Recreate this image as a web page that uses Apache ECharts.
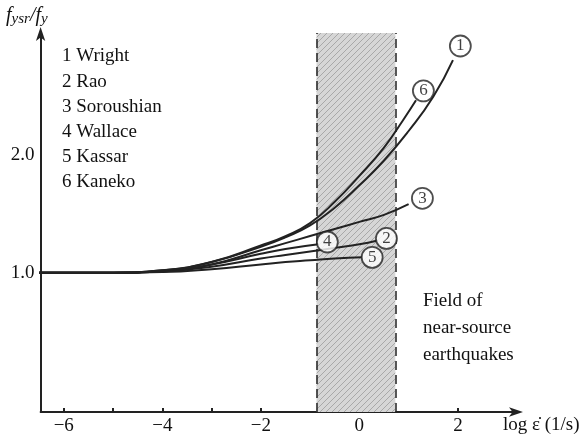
<!DOCTYPE html>
<html><head><meta charset="utf-8">
<script src="https://cdn.jsdelivr.net/npm/echarts@6/dist/echarts.min.js"></script>
<style>html,body{margin:0;padding:0;background:#fff}#c{width:588px;height:438px}</style>
</head><body><div id="c"></div>
<script>
// ---- data ----
const xTickValues = [-6, -5, -4, -3, -2, 0, 2];
const xLabelValues = [-6, -4, -2, 0, 2];
const yLabelValues = [1, 2];
const band = [-0.87, 0.73];
const seriesNames = ['Wright', 'Rao', 'Soroushian', 'Wallace', 'Kassar', 'Kaneko'];
const curve1 = [[-6.5,1.0],[-5,1.0],[-4,1.02],[-3,1.09],[-2,1.22],[-1.5,1.30],[-1,1.40],[-0.5,1.55],[0,1.74],[0.5,1.95],[1,2.20],[1.5,2.49],[1.9,2.80]];
const curve2 = [[-6.5,1.0],[-5,1.0],[-4,1.01],[-3,1.05],[-2,1.12],[-1.5,1.15],[-1,1.18],[-0.5,1.21],[0,1.24],[0.35,1.27]];
const curve3 = [[-6.5,1.0],[-5,1.0],[-4,1.015],[-3,1.07],[-2,1.19],[-1.5,1.25],[-1,1.31],[-0.5,1.37],[0,1.43],[0.5,1.49],[1.0,1.58]];
const curve4 = [[-6.5,1.0],[-5,1.0],[-4,1.01],[-3,1.07],[-2,1.16],[-1.5,1.20],[-0.83,1.24]];
const curve5 = [[-6.5,1.0],[-5,1.0],[-4,1.005],[-3,1.03],[-2,1.07],[-1.5,1.09],[-1,1.105],[-0.5,1.12],[0.06,1.13]];
const curve6 = [[-6.5,1.0],[-5,1.0],[-4,1.02],[-3,1.09],[-2,1.23],[-1.5,1.31],[-1,1.42],[-0.5,1.60],[0,1.82],[0.5,2.06],[0.9,2.30],[1.15,2.46]];
const labelNums = ['1','6','3','4','2','5'];
const labelX = [2.05, 1.30, 1.28, -0.65, 0.55, 0.26];
const labelY = [2.92, 2.54, 1.63, 1.26, 1.29, 1.13];
const fieldText = ['Field of', 'near-source', 'earthquakes'];

// ---- chart ----
const serif = '"Liberation Serif","DejaVu Serif",serif';
const ink = '#222';
const chart = echarts.init(document.getElementById('c'), null, {renderer: 'canvas'});

function hatch() {
  const c = document.createElement('canvas');
  c.width = 6; c.height = 6;
  const g = c.getContext('2d');
  g.fillStyle = '#d6d6d6'; g.fillRect(0, 0, 6, 6);
  g.strokeStyle = '#a8a8a8'; g.lineWidth = 1;
  g.beginPath(); g.moveTo(0, 6); g.lineTo(6, 0); g.stroke();
  g.beginPath(); g.moveTo(-3, 3); g.lineTo(3, -3); g.stroke();
  g.beginPath(); g.moveTo(3, 9); g.lineTo(9, 3); g.stroke();
  return c;
}

const curves = [curve1, curve2, curve3, curve4, curve5, curve6];
const series = curves.map((d, i) => ({
  type: 'line', name: seriesNames[i], data: d, smooth: true, showSymbol: false,
  lineStyle: {color: ink, width: 2}, z: 3, silent: true
}));
series[0].markArea = {
  silent: true,
  itemStyle: {color: {image: hatch(), repetition: 'repeat'}},
  data: [[{xAxis: band[0]}, {xAxis: band[1]}]]
};
series[0].markLine = {
  silent: true, symbol: 'none', label: {show: false},
  lineStyle: {color: ink, type: [9, 5], width: 1.5},
  data: band.map(v => ({xAxis: v}))
};
series.push({
  type: 'scatter', z: 5, silent: true,
  data: labelX.map((x, i) => [x, labelY[i], labelNums[i]]),
  symbol: 'circle', symbolSize: 21,
  itemStyle: {color: '#fff', borderColor: ink, borderWidth: 1.8},
  label: {show: true, position: 'inside', formatter: p => p.data[2],
    fontFamily: serif, fontSize: 17, color: '#111'}
});

const graphics = [];
seriesNames.forEach((n, i) => graphics.push({
  type: 'text', left: 62, top: 47 + i * 25.2,
  style: {text: (i + 1) + ' ' + n, font: '19px ' + serif, fill: '#111'}
}));
fieldText.forEach((t, i) => graphics.push({
  type: 'text', left: 423, top: 292 + i * 27,
  style: {text: t, font: '19px ' + serif, fill: '#111'}
}));
graphics.push({
  type: 'text', left: 503, top: 416,
  style: {text: 'log \u03B5\u0307 (1/s)', font: '19px ' + serif, fill: '#111'}
});
graphics.push({
  type: 'text', left: 6, top: 6,
  style: {
    text: '{f|f}{s|ysr}{f|/f}{s|y}',
    rich: {
      f: {font: 'italic 20px ' + serif, fill: '#111'},
      s: {font: 'italic 15px ' + serif, fill: '#111', padding: [7, 0, 0, 0]}
    }
  }
});

chart.setOption({
  animation: false,
  backgroundColor: '#fff',
  grid: {left: 40.6, right: 71, top: 33, bottom: 26, outerBoundsMode: 'none'},
  xAxis: {
    type: 'value', min: -6.47, max: 3.2,
    axisLine: {show: true, onZero: false, lineStyle: {color: ink, width: 2}, symbol: ['none', 'arrow'], symbolSize: [7, 14], symbolOffset: [0, 6]},
    axisTick: {show: true, inside: true, length: 4, lineStyle: {color: ink, width: 2}, customValues: xTickValues},
    axisLabel: {customValues: xLabelValues, formatter: v => String(v).replace('-', '\u2212'),
      fontFamily: serif, fontSize: 19, color: '#111', margin: 5},
    splitLine: {show: false}
  },
  yAxis: {
    type: 'value', min: -0.18, max: 3.03,
    axisLine: {show: true, onZero: false, lineStyle: {color: ink, width: 2}, symbol: ['none', 'arrow'], symbolSize: [7, 14], symbolOffset: [0, 6]},
    axisTick: {show: false},
    axisLabel: {customValues: yLabelValues, formatter: v => v.toFixed(1),
      fontFamily: serif, fontSize: 19, color: '#111', margin: 6},
    splitLine: {show: false}
  },
  graphic: graphics,
  series: series
});
</script></body></html>
